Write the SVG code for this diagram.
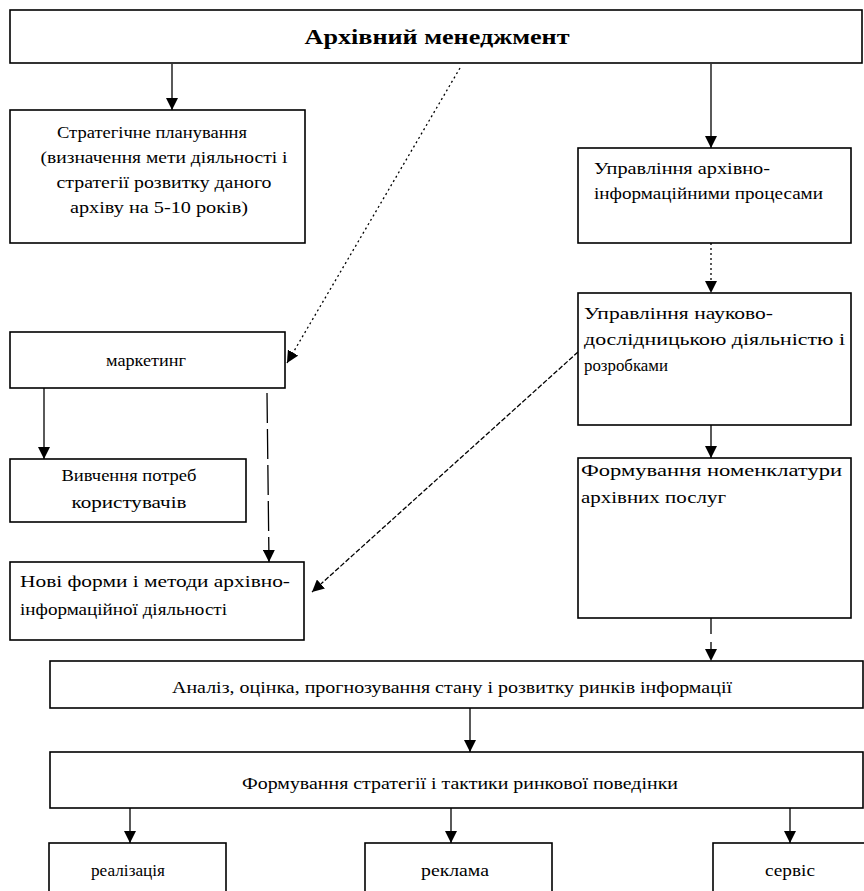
<svg xmlns="http://www.w3.org/2000/svg" width="864" height="891" viewBox="0 0 864 891">
<style>
.box{fill:#fff;stroke:#000;stroke-width:1.6}
.t{font-family:"Liberation Serif","Times New Roman",serif;font-size:17px;fill:#000}
.c{text-anchor:middle}
.title{font-family:"Liberation Serif","Times New Roman",serif;font-size:20px;font-weight:bold;fill:#000;text-anchor:middle}
.ln{stroke:#000;stroke-width:1.3;fill:none}
.dot{stroke-dasharray:2,3}
.dash{stroke-dasharray:5,2}
.long{stroke-dasharray:30,6}
.mid{stroke-dasharray:16,8}
</style>
<defs>
<marker id="ah" markerWidth="12" markerHeight="12" refX="12" refY="6" orient="auto" markerUnits="userSpaceOnUse">
<path d="M0,0 L12,6 L0,12 Z" fill="#000"/>
</marker>
</defs>
<rect width="864" height="891" fill="#fff"/>

<g id="connectors">
<line class="ln" x1="172" y1="64" x2="172" y2="110" marker-end="url(#ah)"/>
<line class="ln dot" x1="460" y1="68" x2="287" y2="363" marker-end="url(#ah)"/>
<line class="ln" x1="711" y1="64" x2="711" y2="148" marker-end="url(#ah)"/>
<line class="ln dot" x1="711" y1="243" x2="711" y2="293" marker-end="url(#ah)"/>
<line class="ln" x1="44" y1="388" x2="44" y2="459" marker-end="url(#ah)"/>
<line class="ln long" x1="267" y1="393" x2="269" y2="562" marker-end="url(#ah)"/>
<line class="ln dash" x1="578" y1="352" x2="312" y2="592" marker-end="url(#ah)"/>
<line class="ln" x1="711" y1="425" x2="711" y2="458" marker-end="url(#ah)"/>
<line class="ln mid" x1="711" y1="618" x2="711" y2="661" marker-end="url(#ah)"/>
<line class="ln" x1="470" y1="708" x2="470" y2="752" marker-end="url(#ah)"/>
<line class="ln" x1="130" y1="808" x2="130" y2="843" marker-end="url(#ah)"/>
<line class="ln" x1="451" y1="808" x2="451" y2="843" marker-end="url(#ah)"/>
<line class="ln" x1="790" y1="808" x2="790" y2="843" marker-end="url(#ah)"/>
</g>

<g id="n-top">
<rect class="box" x="10" y="10" width="852" height="53"/>
<text class="title" x="437" y="44" textLength="265" lengthAdjust="spacingAndGlyphs">Архівний менеджмент</text>
</g>

<g id="n-strat">
<rect class="box" x="10" y="110" width="295" height="133"/>
<text class="t c" x="152" y="138" textLength="190" lengthAdjust="spacingAndGlyphs">Стратегічне  планування</text>
<text class="t c" x="164" y="163" textLength="247" lengthAdjust="spacingAndGlyphs">(визначення мети діяльності і</text>
<text class="t c" x="164" y="188" textLength="215" lengthAdjust="spacingAndGlyphs">стратегії  розвитку даного</text>
<text class="t c" x="159" y="213" textLength="178" lengthAdjust="spacingAndGlyphs">архіву на 5-10 років)</text>
</g>

<g id="n-uaip">
<rect class="box" x="578" y="148" width="273" height="95"/>
<text class="t" x="594" y="174" textLength="176" lengthAdjust="spacingAndGlyphs">Управління архівно-</text>
<text class="t" x="594" y="199" textLength="229" lengthAdjust="spacingAndGlyphs">інформаційними процесами</text>
</g>

<g id="n-undd">
<rect class="box" x="578" y="293" width="273" height="132"/>
<text class="t" x="584" y="319" textLength="189" lengthAdjust="spacingAndGlyphs">Управління науково-</text>
<text class="t" x="584" y="345" textLength="261" lengthAdjust="spacingAndGlyphs">дослідницькою діяльністю і</text>
<text class="t" x="584" y="371" textLength="84" lengthAdjust="spacingAndGlyphs">розробками</text>
</g>

<g id="n-market">
<rect class="box" x="10" y="332" width="275" height="56"/>
<text class="t c" x="146" y="366" textLength="80" lengthAdjust="spacingAndGlyphs">маркетинг</text>
</g>

<g id="n-vyv">
<rect class="box" x="10" y="459" width="236" height="63"/>
<text class="t c" x="129" y="481" textLength="135" lengthAdjust="spacingAndGlyphs">Вивчення потреб</text>
<text class="t c" x="129" y="508" textLength="115" lengthAdjust="spacingAndGlyphs">користувачів</text>
</g>

<g id="n-novi">
<rect class="box" x="10" y="562" width="294" height="78"/>
<text class="t" x="20" y="587" textLength="270" lengthAdjust="spacingAndGlyphs">Нові форми і методи архівно-</text>
<text class="t" x="20" y="615" textLength="207" lengthAdjust="spacingAndGlyphs">інформаційної діяльності</text>
</g>

<g id="n-fnap">
<rect class="box" x="578" y="458" width="273" height="160"/>
<text class="t" x="581" y="476" textLength="261" lengthAdjust="spacingAndGlyphs">Формування номенклатури</text>
<text class="t" x="581" y="503" textLength="145" lengthAdjust="spacingAndGlyphs">архівних послуг</text>
</g>

<g id="n-analiz">
<rect class="box" x="50" y="661" width="813" height="47"/>
<text class="t c" x="452" y="693" textLength="560" lengthAdjust="spacingAndGlyphs">Аналіз, оцінка, прогнозування стану і розвитку ринків інформації</text>
</g>

<g id="n-form">
<rect class="box" x="50" y="752" width="813" height="56"/>
<text class="t c" x="460" y="789" textLength="436" lengthAdjust="spacingAndGlyphs">Формування стратегії і тактики ринкової поведінки</text>
</g>

<g id="n-real">
<rect class="box" x="49" y="843" width="177" height="60"/>
<text class="t c" x="128" y="876" textLength="74" lengthAdjust="spacingAndGlyphs">реалізація</text>
</g>

<g id="n-rekl">
<rect class="box" x="365" y="843" width="187" height="60"/>
<text class="t c" x="455" y="876" textLength="68" lengthAdjust="spacingAndGlyphs">реклама</text>
</g>

<g id="n-serv">
<rect class="box" x="713" y="843" width="160" height="60"/>
<text class="t c" x="790" y="876" textLength="50" lengthAdjust="spacingAndGlyphs">сервіс</text>
</g>
</svg>
